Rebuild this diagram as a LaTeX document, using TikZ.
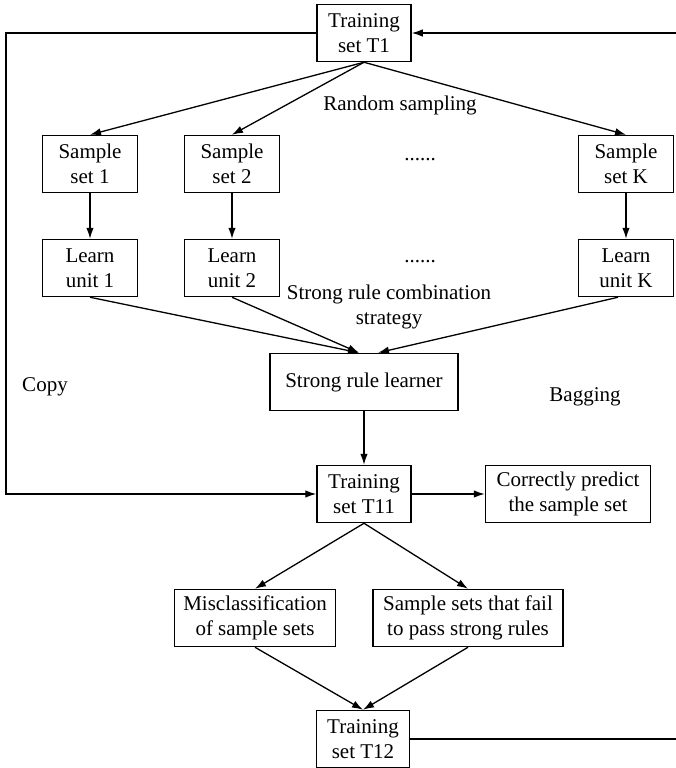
\documentclass[tikz,border=0pt]{standalone}
\usepackage{fontspec}
\setmainfont{Liberation Serif}
\usetikzlibrary{arrows.meta}
\begin{document}
\begin{tikzpicture}[x=1pt,y=-1pt,
        box/.style={draw,line width=1.5pt,align=center,minimum height=57pt,inner sep=2pt,font=\fontsize{21}{25}\selectfont},
        lbl/.style={align=center,font=\fontsize{21}{25}\selectfont},
        arr/.style={line width=1.3pt,-{Latex[length=11pt,width=7.5pt]}}]
        \useasboundingbox (0,0) rectangle (676,768);

        \node[box,minimum width=94pt] (T1) at (364,33) {Training\\set T1};
        \foreach \n/\x in {1/90,2/232,K/626} {
            \node[box,minimum width=95pt] (S\n) at (\x,164) {Sample\\set \n};
            \node[box,minimum width=95pt] (L\n) at (\x,268) {Learn\\unit \n};
            \draw[arr] (T1.south) -- (S\n.north);
            \draw[arr] (S\n) -- (L\n);
        }
        \node[lbl] (dotsS) at (420,160) {......};
        \node[lbl] (dotsL) at (420,262) {......};
        \node[lbl] (rand) at (400,105) {Random sampling};
        \node[lbl] (comb) at (389,307) {Strong rule combination\\strategy};

        \node[box,minimum width=188pt] (learner) at (364,382) {Strong rule learner};
        \draw[arr] (L1.south) -- ([xshift=-5pt]learner.north);
        \draw[arr] (L2.south) -- ([xshift=-5pt]learner.north);
        \draw[arr] ([xshift=-8pt]LK.south) -- ([xshift=14pt]learner.north);
        \node[lbl] (copy) at (45,387) {Copy};
        \node[lbl] (bag) at (585,397) {Bagging};

        \node[box,minimum width=94pt] (T11) at (364,494) {Training\\set T11};
        \node[box,minimum width=165pt] (right) at (568,494) {Correctly predict\\the sample set};
        \draw[arr] (learner) -- (T11);
        \draw[arr] (T11) -- (right);

        \node[box,minimum width=161pt] (mis) at (255,618) {Misclassification\\of sample sets};
        \node[box,minimum width=190pt] (fail) at (468,618) {Sample sets that fail\\to pass strong rules};
        \draw[arr] (T11.south) -- (mis.north);
        \draw[arr] (T11.south) -- (fail.north);

        \node[box,minimum width=93pt] (T12) at (363,739) {Training\\set T12};
        \draw[arr] (mis.south) -- (T12.north);
        \draw[arr] (fail.south) -- (T12.north);

        \coordinate (lcorner) at (6,33);
        \coordinate (rcorner) at (682,739);
        \draw[arr] (T1.west) -- (lcorner) |- (T11.west);
        \draw[arr] (T12.east) -- (rcorner) |- (T1.east);
    \end{tikzpicture}
\end{document}
